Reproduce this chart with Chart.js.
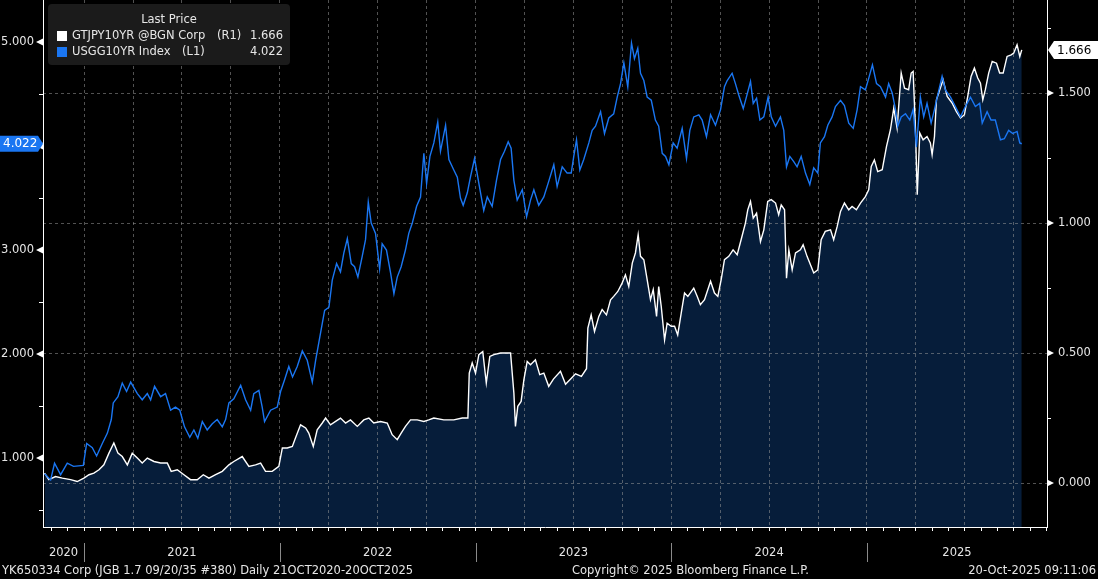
<!DOCTYPE html>
<html>
<head>
<meta charset="utf-8">
<script src="https://cdn.jsdelivr.net/npm/chart.js@4.4.1/dist/chart.umd.min.js"></script>
<style>
  html, body { margin: 0; padding: 0; background: #000; overflow: hidden; }
  canvas { display: block; background: #000; }
</style>
</head>
<body>
<canvas id="grafico" width="1098" height="579"></canvas>
<script>
// USGG10YR Index (eje izquierdo), fechas en años decimales
const usFechas = [
  2020.798, 2020.829, 2020.849, 2020.880, 2020.914, 2020.946, 2020.996, 2021.013, 2021.042, 2021.064,
  2021.093, 2021.119, 2021.139, 2021.149, 2021.173, 2021.195, 2021.217, 2021.238, 2021.272, 2021.297,
  2021.323, 2021.340, 2021.360, 2021.391, 2021.416, 2021.442, 2021.467, 2021.489, 2021.513, 2021.540,
  2021.561, 2021.581, 2021.604, 2021.629, 2021.655, 2021.680, 2021.706, 2021.723, 2021.740, 2021.765,
  2021.800, 2021.825, 2021.851, 2021.867, 2021.893, 2021.910, 2021.922, 2021.953, 2021.987, 2022.004,
  2022.024, 2022.046, 2022.065, 2022.089, 2022.115, 2022.140, 2022.166, 2022.183, 2022.205, 2022.229,
  2022.251, 2022.268, 2022.290, 2022.310, 2022.327, 2022.345, 2022.365, 2022.382, 2022.399, 2022.421,
  2022.438, 2022.452, 2022.467, 2022.489, 2022.510, 2022.523, 2022.545, 2022.566, 2022.583, 2022.600,
  2022.620, 2022.642, 2022.659, 2022.677, 2022.699, 2022.719, 2022.736, 2022.750, 2022.767, 2022.787,
  2022.807, 2022.821, 2022.847, 2022.864, 2022.889, 2022.907, 2022.923, 2022.937, 2022.958, 2022.974,
  2022.995, 2023.017, 2023.042, 2023.060, 2023.085, 2023.107, 2023.128, 2023.148, 2023.167, 2023.182,
  2023.196, 2023.213, 2023.239, 2023.261, 2023.281, 2023.298, 2023.323, 2023.349, 2023.374, 2023.400,
  2023.417, 2023.443, 2023.468, 2023.489, 2023.502, 2023.516, 2023.533, 2023.553, 2023.579, 2023.596,
  2023.613, 2023.639, 2023.659, 2023.681, 2023.706, 2023.724, 2023.741, 2023.758, 2023.778, 2023.797,
  2023.812, 2023.829, 2023.843, 2023.860, 2023.877, 2023.898, 2023.919, 2023.936, 2023.954, 2023.971,
  2023.988, 2024.010, 2024.030, 2024.056, 2024.078, 2024.095, 2024.115, 2024.141, 2024.158, 2024.180,
  2024.201, 2024.226, 2024.252, 2024.272, 2024.286, 2024.311, 2024.328, 2024.345, 2024.368, 2024.384,
  2024.405, 2024.419, 2024.436, 2024.453, 2024.473, 2024.495, 2024.511, 2024.533, 2024.558, 2024.575,
  2024.589, 2024.606, 2024.626, 2024.643, 2024.664, 2024.686, 2024.708, 2024.728, 2024.749, 2024.762,
  2024.783, 2024.800, 2024.822, 2024.839, 2024.865, 2024.885, 2024.907, 2024.930, 2024.950, 2024.967,
  2024.992, 2025.009, 2025.028, 2025.049, 2025.069, 2025.095, 2025.111, 2025.129, 2025.146, 2025.157,
  2025.175, 2025.197, 2025.219, 2025.236, 2025.253, 2025.273, 2025.290, 2025.307, 2025.328, 2025.345,
  2025.359, 2025.384, 2025.401, 2025.427, 2025.452, 2025.478, 2025.503, 2025.529, 2025.554, 2025.576,
  2025.589, 2025.614, 2025.634, 2025.656, 2025.682, 2025.702, 2025.724, 2025.745, 2025.767, 2025.781,
  2025.791
];
const usRend = [
  0.85, 0.79, 0.95, 0.84, 0.95, 0.92, 0.93, 1.14, 1.10, 1.02,
  1.14, 1.24, 1.37, 1.53, 1.59, 1.72, 1.64, 1.73, 1.62, 1.56,
  1.62, 1.56, 1.69, 1.59, 1.62, 1.46, 1.49, 1.46, 1.30, 1.20,
  1.27, 1.19, 1.35, 1.27, 1.33, 1.37, 1.30, 1.37, 1.53, 1.57,
  1.70, 1.56, 1.46, 1.62, 1.65, 1.49, 1.35, 1.46, 1.49, 1.64,
  1.75, 1.88, 1.78, 1.88, 2.03, 1.94, 1.73, 1.94, 2.17, 2.42,
  2.45, 2.71, 2.87, 2.79, 2.97, 3.11, 2.87, 2.84, 2.74, 2.94,
  3.10, 3.46, 3.26, 3.16, 2.82, 3.06, 3.00, 2.78, 2.58, 2.74,
  2.84, 3.00, 3.16, 3.26, 3.42, 3.51, 3.93, 3.64, 3.90, 4.03,
  4.23, 3.95, 4.20, 3.87, 3.77, 3.70, 3.50, 3.43, 3.55, 3.70,
  3.88, 3.64, 3.38, 3.51, 3.42, 3.67, 3.87, 3.95, 4.04, 3.98,
  3.67, 3.48, 3.58, 3.32, 3.48, 3.58, 3.43, 3.51, 3.66, 3.82,
  3.61, 3.80, 3.74, 3.74, 3.90, 4.06, 3.77, 3.87, 4.03, 4.15,
  4.19, 4.33, 4.12, 4.27, 4.31, 4.47, 4.60, 4.80, 4.57, 4.99,
  4.84, 4.94, 4.70, 4.63, 4.47, 4.44, 4.25, 4.19, 3.93, 3.90,
  3.82, 4.03, 3.98, 4.17, 3.88, 4.15, 4.28, 4.30, 4.25, 4.09,
  4.30, 4.20, 4.35, 4.57, 4.63, 4.70, 4.60, 4.49, 4.36, 4.47,
  4.62, 4.41, 4.46, 4.25, 4.28, 4.47, 4.28, 4.19, 4.28, 4.15,
  3.80, 3.90, 3.85, 3.80, 3.90, 3.74, 3.63, 3.79, 3.74, 4.03,
  4.09, 4.20, 4.28, 4.38, 4.44, 4.39, 4.22, 4.17, 4.35, 4.57,
  4.54, 4.65, 4.78, 4.60, 4.57, 4.47, 4.60, 4.51, 4.35, 4.19,
  4.28, 4.31, 4.25, 4.35, 3.99, 4.47, 4.28, 4.41, 4.22, 4.35,
  4.47, 4.67, 4.54, 4.47, 4.38, 4.28, 4.38, 4.47, 4.38, 4.41,
  4.22, 4.33, 4.25, 4.25, 4.06, 4.07, 4.15, 4.12, 4.14, 4.03,
  4.022
];

// GTJPY10YR @BGN Corp (eje derecho)
const jpFechas = [
  2020.798, 2020.820, 2020.854, 2020.889, 2020.931, 2020.965, 2020.999, 2021.025, 2021.050, 2021.076,
  2021.101, 2021.127, 2021.152, 2021.173, 2021.195, 2021.221, 2021.246, 2021.272, 2021.297, 2021.323,
  2021.357, 2021.391, 2021.425, 2021.445, 2021.476, 2021.510, 2021.544, 2021.578, 2021.609, 2021.638,
  2021.672, 2021.706, 2021.740, 2021.765, 2021.808, 2021.842, 2021.876, 2021.902, 2021.927, 2021.961,
  2021.995, 2022.013, 2022.038, 2022.064, 2022.080, 2022.106, 2022.132, 2022.148, 2022.171, 2022.191,
  2022.217, 2022.234, 2022.259, 2022.285, 2022.310, 2022.336, 2022.361, 2022.396, 2022.429, 2022.455,
  2022.480, 2022.515, 2022.549, 2022.574, 2022.600, 2022.620, 2022.642, 2022.668, 2022.702, 2022.736,
  2022.761, 2022.787, 2022.838, 2022.889, 2022.932, 2022.961, 2022.968, 2022.983, 2023.000, 2023.017,
  2023.037, 2023.055, 2023.073, 2023.094, 2023.128, 2023.179, 2023.196, 2023.204, 2023.216, 2023.233,
  2023.247, 2023.264, 2023.281, 2023.306, 2023.328, 2023.349, 2023.374, 2023.398, 2023.434, 2023.460,
  2023.486, 2023.511, 2023.541, 2023.567, 2023.574, 2023.591, 2023.608, 2023.630, 2023.647, 2023.669,
  2023.690, 2023.706, 2023.727, 2023.749, 2023.766, 2023.783, 2023.801, 2023.817, 2023.831, 2023.843,
  2023.860, 2023.880, 2023.894, 2023.908, 2023.925, 2023.936, 2023.949, 2023.966, 2023.979, 2024.000,
  2024.017, 2024.033, 2024.051, 2024.068, 2024.085, 2024.115, 2024.133, 2024.149, 2024.170, 2024.201,
  2024.221, 2024.238, 2024.255, 2024.272, 2024.294, 2024.316, 2024.337, 2024.357, 2024.379, 2024.391,
  2024.405, 2024.419, 2024.436, 2024.456, 2024.473, 2024.493, 2024.511, 2024.533, 2024.549, 2024.562,
  2024.579, 2024.589, 2024.601, 2024.618, 2024.635, 2024.660, 2024.674, 2024.694, 2024.715, 2024.728,
  2024.749, 2024.766, 2024.787, 2024.814, 2024.830, 2024.848, 2024.865, 2024.885, 2024.907, 2024.924,
  2024.946, 2024.967, 2024.992, 2025.009, 2025.022, 2025.038, 2025.055, 2025.078, 2025.100, 2025.120,
  2025.137, 2025.154, 2025.175, 2025.192, 2025.213, 2025.226, 2025.236, 2025.248, 2025.257, 2025.270,
  2025.287, 2025.307, 2025.324, 2025.333, 2025.345, 2025.355, 2025.372, 2025.389, 2025.410, 2025.435,
  2025.457, 2025.478, 2025.498, 2025.515, 2025.532, 2025.549, 2025.566, 2025.580, 2025.592, 2025.605,
  2025.622, 2025.640, 2025.662, 2025.678, 2025.696, 2025.716, 2025.737, 2025.750, 2025.767, 2025.781,
  2025.791
];
const jpRend = [
  0.038, 0.013, 0.025, 0.019, 0.013, 0.006, 0.019, 0.032, 0.038, 0.051,
  0.070, 0.115, 0.154, 0.115, 0.102, 0.070, 0.115, 0.096, 0.077, 0.096,
  0.083, 0.077, 0.077, 0.045, 0.051, 0.032, 0.013, 0.013, 0.032, 0.019,
  0.032, 0.045, 0.070, 0.083, 0.102, 0.064, 0.070, 0.077, 0.045, 0.045,
  0.064, 0.135, 0.135, 0.141, 0.173, 0.224, 0.212, 0.192, 0.141, 0.205,
  0.231, 0.250, 0.224, 0.237, 0.250, 0.231, 0.243, 0.218, 0.243, 0.250,
  0.231, 0.237, 0.231, 0.186, 0.167, 0.192, 0.218, 0.243, 0.243, 0.237,
  0.243, 0.250, 0.243, 0.243, 0.250, 0.250, 0.423, 0.462, 0.423, 0.494,
  0.506, 0.385, 0.487, 0.494, 0.500, 0.500, 0.346, 0.218, 0.295, 0.314,
  0.397, 0.468, 0.455, 0.474, 0.417, 0.423, 0.372, 0.400, 0.430, 0.380,
  0.400, 0.420, 0.410, 0.440, 0.596, 0.647, 0.583, 0.641, 0.667, 0.647,
  0.705, 0.718, 0.737, 0.769, 0.801, 0.756, 0.846, 0.885, 0.955, 0.872,
  0.859, 0.769, 0.705, 0.744, 0.641, 0.756, 0.679, 0.551, 0.615, 0.603,
  0.603, 0.570, 0.654, 0.731, 0.718, 0.750, 0.718, 0.686, 0.705, 0.776,
  0.731, 0.718, 0.782, 0.859, 0.872, 0.897, 0.878, 0.936, 1.000, 1.051,
  1.083, 1.019, 1.038, 0.929, 0.974, 1.083, 1.090, 1.077, 1.032, 1.070,
  1.051, 0.788, 0.897, 0.820, 0.885, 0.897, 0.917, 0.872, 0.833, 0.808,
  0.820, 0.936, 0.968, 0.974, 0.936, 0.987, 1.045, 1.077, 1.051, 1.064,
  1.051, 1.077, 1.102, 1.128, 1.218, 1.243, 1.198, 1.205, 1.295, 1.359,
  1.442, 1.365, 1.577, 1.519, 1.513, 1.577, 1.583, 1.359, 1.109, 1.346,
  1.320, 1.333, 1.308, 1.263, 1.333, 1.474, 1.513, 1.551, 1.487, 1.462,
  1.429, 1.404, 1.417, 1.487, 1.564, 1.596, 1.558, 1.538, 1.474, 1.513,
  1.577, 1.622, 1.615, 1.577, 1.577, 1.641, 1.647, 1.654, 1.686, 1.641,
  1.666
];

// ejes
const xMin = 2020.79, xMax = 2025.92;
const izqMin = 0.337, izqMax = 5.404;
const derMin = -0.169, derMax = 1.858;
const ticksIzq = [0.5, 1, 1.5, 2, 2.5, 3, 3.5, 4, 4.5, 5];
const ticksDer = [0, 0.25, 0.5, 0.75, 1, 1.25, 1.5, 1.75];
const limitesAño = [2021, 2022, 2023, 2024, 2025];
const etiquetasAño = ['2020', '2021', '2022', '2023', '2024', '2025'];

const nombreJp = 'GTJPY10YR @BGN Corp';
const nombreUs = 'USGG10YR Index';
const pieIzq = 'YK650334 Corp (JGB 1.7 09/20/35 #380) Daily 21OCT2020-20OCT2025';
const pieCentro = 'Copyright\u00A9 2025 Bloomberg Finance L.P.';
const pieDer = '20-Oct-2025 09:11:06';

const azul = '#1a76f2';
const marino = '#061d3a';
const gris = 'rgba(150,150,150,0.55)';
const texto = '#e6e6e6';
const fuente = 'DejaVu Sans';

Chart.defaults.font.family = fuente;
Chart.defaults.font.size = 11.5;
Chart.defaults.color = texto;

function sinRelleno(s) {
  s.paddingTop = 0;
  s.paddingBottom = 0;
  s.paddingLeft = 0;
  s.paddingRight = 0;
}

function mesesEjeX() {
  const ticks = [];
  for (let a = 2020; a <= 2025; a++) {
    for (let m = 0; m < 12; m++) {
      const v = a + m / 12;
      if (v >= xMin && v <= xMax) ticks.push({ value: v });
    }
  }
  return ticks;
}

function esTrimestre(v) {
  const mes = Math.round((v - Math.floor(v + 1e-6)) * 12);
  return mes % 3 === 0;
}

function etiqueta(ctx, puntos, fondo) {
  ctx.fillStyle = fondo;
  ctx.beginPath();
  puntos.forEach(([px, py], i) => i ? ctx.lineTo(px, py) : ctx.moveTo(px, py));
  ctx.closePath();
  ctx.fill();
}

const decoracion = {
  id: 'decoracion',
  afterDraw(chart) {
    const { ctx, chartArea: area } = chart;
    const { x, yIzq, yDer } = chart.scales;
    ctx.save();

    // flechas en los ticks mayores
    ctx.fillStyle = '#fff';
    ticksIzq.filter(v => Number.isInteger(v)).forEach(v => {
      const py = yIzq.getPixelForValue(v);
      ctx.beginPath();
      ctx.moveTo(area.left, py - 3.5);
      ctx.lineTo(area.left - 7, py);
      ctx.lineTo(area.left, py + 3.5);
      ctx.closePath();
      ctx.fill();
    });
    ticksDer.filter(v => Number.isInteger(v * 2)).forEach(v => {
      const py = yDer.getPixelForValue(v);
      ctx.beginPath();
      ctx.moveTo(area.right, py - 3.5);
      ctx.lineTo(area.right + 7, py);
      ctx.lineTo(area.right, py + 3.5);
      ctx.closePath();
      ctx.fill();
    });

    // años bajo el eje
    ctx.font = `11.5px ${fuente}`;
    ctx.fillStyle = texto;
    ctx.textAlign = 'center';
    ctx.textBaseline = 'middle';
    const bordes = [xMin, ...limitesAño, xMax];
    etiquetasAño.forEach((t, i) => {
      const a = x.getPixelForValue(bordes[i]);
      const b = x.getPixelForValue(bordes[i + 1]);
      ctx.fillText(t, (a + b) / 2, 553);
    });
    ctx.strokeStyle = '#8a8a8a';
    ctx.lineWidth = 1;
    limitesAño.forEach(a => {
      const px = Math.round(x.getPixelForValue(a)) + 0.5;
      ctx.beginPath();
      ctx.moveTo(px, 543);
      ctx.lineTo(px, 562);
      ctx.stroke();
    });

    // pie
    ctx.fillStyle = texto;
    ctx.textAlign = 'left';
    ctx.fillText(pieIzq, 2, 571);
    ctx.fillText(pieCentro, 572, 571);
    ctx.textAlign = 'right';
    ctx.fillText(pieDer, 1096, 571);

    // leyenda
    const ultimoUs = usRend[usRend.length - 1];
    const ultimoJp = jpRend[jpRend.length - 1];
    ctx.fillStyle = '#1b1b1b';
    ctx.beginPath();
    ctx.roundRect(48, 4, 242, 61, 4);
    ctx.fill();
    ctx.fillStyle = texto;
    ctx.textAlign = 'center';
    ctx.fillText('Last Price', 169, 20);
    ctx.fillStyle = '#fff';
    ctx.fillRect(57, 31, 10, 10);
    ctx.fillStyle = azul;
    ctx.fillRect(57, 47, 10, 10);
    ctx.fillStyle = texto;
    ctx.textAlign = 'left';
    ctx.fillText(nombreJp, 72, 36);
    ctx.fillText('(R1)', 217, 36);
    ctx.fillText(nombreUs, 72, 52);
    ctx.fillText('(L1)', 182, 52);
    ctx.textAlign = 'right';
    ctx.fillText(ultimoJp.toFixed(3), 283, 36);
    ctx.fillText(ultimoUs.toFixed(3), 283, 52);

    // etiquetas del ultimo valor en los ejes
    const pyUs = yIzq.getPixelForValue(ultimoUs);
    etiqueta(ctx, [[0, pyUs - 8], [38, pyUs - 8], [area.left, pyUs], [38, pyUs + 8], [0, pyUs + 8]], azul);
    ctx.fillStyle = '#fff';
    ctx.textAlign = 'left';
    ctx.font = `12px ${fuente}`;
    ctx.fillText(ultimoUs.toFixed(3), 3, pyUs + 0.5);

    const pyJp = yDer.getPixelForValue(ultimoJp);
    etiqueta(ctx, [[area.right + 1, pyJp], [1054, pyJp - 9], [1098, pyJp - 9], [1098, pyJp + 9], [1054, pyJp + 9]], '#fff');
    ctx.fillStyle = '#000';
    ctx.fillText(ultimoJp.toFixed(3), 1057, pyJp + 0.5);

    ctx.restore();
  }
};

const ctx = document.getElementById('grafico').getContext('2d');
new Chart(ctx, {
  type: 'line',
  data: {
    datasets: [
      {
        label: nombreUs,
        data: usFechas.map((f, i) => ({ x: f, y: usRend[i] })),
        yAxisID: 'yIzq',
        borderColor: azul,
        borderWidth: 1.4,
        pointRadius: 0,
        fill: false,
        order: 0
      },
      {
        label: nombreJp,
        data: jpFechas.map((f, i) => ({ x: f, y: jpRend[i] })),
        yAxisID: 'yDer',
        borderColor: '#ffffff',
        borderWidth: 1.4,
        pointRadius: 0,
        fill: 'start',
        backgroundColor: marino,
        order: 1
      }
    ]
  },
  options: {
    responsive: false,
    animation: false,
    devicePixelRatio: 1,
    layout: { padding: 0 },
    plugins: {
      legend: { display: false },
      tooltip: { enabled: false },
      filler: { drawTime: 'beforeDraw' }
    },
    scales: {
      x: {
        type: 'linear',
        position: 'bottom',
        min: xMin,
        max: xMax,
        afterBuildTicks: s => { s.ticks = mesesEjeX(); },
        afterFit: s => { s.height = 52; sinRelleno(s); },
        ticks: { display: false },
        grid: {
          color: c => (c.tick && esTrimestre(c.tick.value)) ? gris : 'transparent',
          tickColor: '#fff',
          tickLength: 4
        },
        border: { display: true, color: '#fff', dash: [3, 3] }
      },
      yIzq: {
        type: 'linear',
        position: 'left',
        min: izqMin,
        max: izqMax,
        afterBuildTicks: s => { s.ticks = ticksIzq.map(v => ({ value: v })); },
        afterFit: s => { s.width = 43; sinRelleno(s); },
        ticks: {
          padding: 5,
          callback: v => Number.isInteger(v) ? v.toFixed(3) : ''
        },
        grid: { drawOnChartArea: false, tickColor: '#fff', tickLength: 4 },
        border: { display: true, color: '#fff' }
      },
      yDer: {
        type: 'linear',
        position: 'right',
        min: derMin,
        max: derMax,
        afterBuildTicks: s => { s.ticks = ticksDer.map(v => ({ value: v })); },
        afterFit: s => { s.width = 51; sinRelleno(s); },
        ticks: {
          padding: 7,
          callback: v => Number.isInteger(v * 2) ? v.toFixed(3) : ''
        },
        grid: {
          color: c => (c.tick && Number.isInteger(c.tick.value * 2)) ? gris : 'transparent',
          tickColor: '#fff',
          tickLength: 4
        },
        border: { display: true, color: '#fff', dash: [3, 3] }
      }
    }
  },
  plugins: [decoracion]
});
</script>
</body>
</html>
